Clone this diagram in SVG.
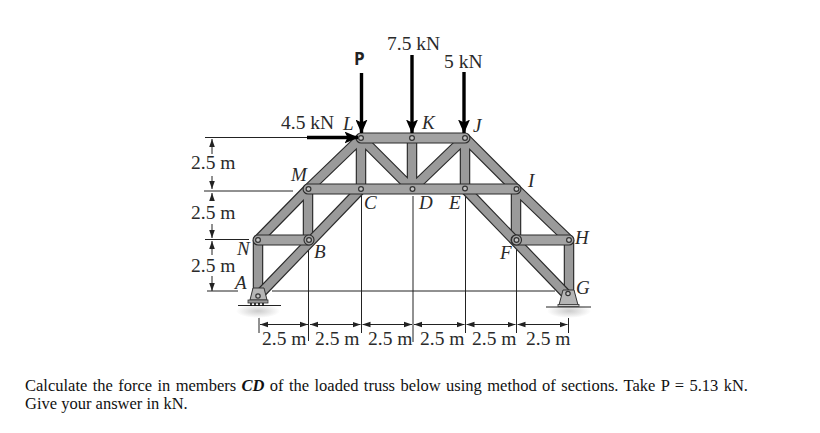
<svg xmlns="http://www.w3.org/2000/svg" width="820" height="433" viewBox="0 0 820 433">
<style>
text{font-family:"Liberation Serif","Times New Roman",serif;fill:#2a2a2a}
.d{font-size:19.5px}
.j{font-size:19px;font-style:italic}
.q{font-size:16.5px;fill:#111}
.o{fill:none;stroke:#2b2b2b;stroke-width:10.5}
.f{fill:none;stroke:#9a9a9a;stroke-width:8.2}
.or{fill:none;stroke:#2b2b2b;stroke-width:11;stroke-linecap:round}
.fr{fill:none;stroke:#a2a2a2;stroke-width:8.8;stroke-linecap:round}
.t{stroke:#222;stroke-width:1;fill:none}
.load{stroke:#000;stroke-width:3.4;fill:none}
.pin{fill:#c4c4c4;stroke:#333;stroke-width:1.2}
.boss{fill:#a2a2a2;stroke:#2b2b2b;stroke-width:1.1}
</style>
<defs>
<marker id="ah" viewBox="0 0 14 12" refX="13.500" refY="6" markerWidth="14" markerHeight="12" markerUnits="userSpaceOnUse" orient="auto"><path d="M0 0L14 6L0 12L3 6Z" fill="#000"/></marker>
<marker id="tk" viewBox="0 0 10 10" refX="10" refY="5" markerWidth="8" markerHeight="8" markerUnits="userSpaceOnUse" orient="auto-start-reverse"><path d="M0 1.500L10 5L0 8.500Z" fill="#222"/></marker>
<path id="web" d="M361 138L308 189M308 189L258 240M258 240V296M308 189V240M361 138V189M412 138V189M465 138V189M361 138L412 189M465 138L412 189M465 138L516 189M516 189L569 240M516 189V240M569 240V296"/>
<path id="dg" d="M258 296L361 189M465 189L568 296"/>
<path id="hh" d="M258 240H308M516 240H569"/>
<path id="chord" d="M308 189H516M361 138H465"/>
<radialGradient id="gnd"><stop offset="0" stop-color="#ccc"/><stop offset="1" stop-color="#fff"/></radialGradient>
</defs>

<g id="connectors">
<g id="dimensions">
<path class="t" d="M205 137.500H310M204 191H293M205 239.500H249M207 291H238M272 291H555M259 303V333M308.500 246V341M361.500 196V333M413 196V342M465.500 196V333M516.500 246V333M568.500 305V333"/>
<path class="t" marker-start="url(#tk)" d="M212 139V154"/>
<path class="t" marker-end="url(#tk)" d="M212 176V189"/>
<path class="t" marker-start="url(#tk)" d="M212 193V200"/>
<path class="t" marker-end="url(#tk)" d="M212 224V238"/>
<path class="t" marker-start="url(#tk)" d="M212 241V255"/>
<path class="t" marker-end="url(#tk)" d="M212 276V291"/>
<path class="t" marker-start="url(#tk)" marker-end="url(#tk)" d="M260 324.500H308"/>
<path class="t" marker-start="url(#tk)" marker-end="url(#tk)" d="M310 324.500H360.500"/>
<path class="t" marker-start="url(#tk)" marker-end="url(#tk)" d="M362.500 324.500H412"/>
<path class="t" marker-start="url(#tk)" marker-end="url(#tk)" d="M414 324.500H464.500"/>
<path class="t" marker-start="url(#tk)" marker-end="url(#tk)" d="M466.500 324.500H515.500"/>
<path class="t" marker-start="url(#tk)" marker-end="url(#tk)" d="M517.500 324.500H567.500"/>
</g>
<g id="members">
<use href="#web" class="o"/><use href="#web" class="f"/>
<use href="#dg" class="o"/><use href="#dg" class="f"/>
<use href="#hh" class="or"/><use href="#hh" class="fr"/>
<use href="#chord" class="or"/><use href="#chord" class="fr"/>
<circle class="boss" cx="309" cy="240" r="5"/>
<circle class="boss" cx="516.500" cy="240" r="5"/>
</g>
<g id="loads">
<path class="load" marker-end="url(#ah)" d="M361.500 73V133"/>
<path class="load" marker-end="url(#ah)" d="M412 55V133"/>
<path class="load" marker-end="url(#ah)" d="M464 72V133"/>
<path class="load" marker-end="url(#ah)" d="M307 137.500H358"/>
</g>
</g>

<g id="support-A">
<ellipse cx="258" cy="311" rx="22" ry="7" fill="url(#gnd)"/>
<path class="t" d="M238 305.500H281"/>
<path d="M253 288H264L267 300H250Z" fill="#b5b5b5" stroke="#333"/>
<rect x="248" y="300" width="20" height="3" fill="#999" stroke="#333" stroke-width=".8"/>
<path d="M251 303V306M255 303V306M259 303V306M263 303V306" stroke="#111" stroke-width="1.600"/>
<circle class="pin" cx="258" cy="296" r="2.200"/>
<text class="j" x="235" y="289">A</text>
</g>
<g id="support-G">
<ellipse cx="569" cy="311" rx="22" ry="7" fill="url(#gnd)"/>
<path class="t" d="M546 307H591"/>
<path d="M563 290H574L578 305H559Z" fill="#b5b5b5" stroke="#333"/>
<rect x="558" y="304.500" width="21" height="2" fill="#ccc" stroke="#333" stroke-width=".8"/>
<circle class="pin" cx="568" cy="293.500" r="2.200"/>
<text class="j" x="576" y="294">G</text>
</g>
<g id="node-L"><circle class="pin" cx="361" cy="138" r="2.400"/><text class="j" x="343" y="130">L</text></g>
<g id="node-K"><circle class="pin" cx="412" cy="138" r="2.400"/><text class="j" x="422" y="129">K</text></g>
<g id="node-J"><circle class="pin" cx="465" cy="138" r="2.400"/><text class="j" x="473" y="132">J</text></g>
<g id="node-M"><circle class="pin" cx="308.500" cy="189" r="2.400"/><text class="j" x="291" y="181">M</text></g>
<g id="node-C"><circle class="pin" cx="361" cy="189" r="2.400"/><text class="j" x="364" y="209">C</text></g>
<g id="node-D"><circle class="pin" cx="412.500" cy="189" r="2.400"/><text class="j" x="419" y="209">D</text></g>
<g id="node-E"><circle class="pin" cx="465" cy="188.500" r="2.400"/><text class="j" x="449" y="209">E</text></g>
<g id="node-I"><circle class="pin" cx="516.500" cy="189" r="2.400"/><text class="j" x="528" y="187">I</text></g>
<g id="node-N"><circle class="pin" cx="258" cy="240" r="2.400"/><text class="j" x="237" y="255">N</text></g>
<g id="node-B"><circle class="pin" cx="309" cy="240" r="2.400"/><text class="j" x="314" y="258">B</text></g>
<g id="node-F"><circle class="pin" cx="516.500" cy="240" r="2.400"/><text class="j" x="500" y="259">F</text></g>
<g id="node-H"><circle class="pin" cx="569" cy="240" r="2.400"/><text class="j" x="575" y="244">H</text></g>

<g id="labels">
<text x="354" y="65" style="font-family:'Open Sans','Noto Sans',sans-serif;font-weight:700;font-size:17px;fill:#222">P</text>
<text class="d" x="387" y="50">7.5 kN</text>
<text class="d" x="444" y="68">5 kN</text>
<text class="d" x="281" y="129">4.5 kN</text>
<text class="d" x="191" y="169">2.5 m</text>
<text class="d" x="191" y="219">2.5 m</text>
<text class="d" x="191" y="272">2.5 m</text>
<text class="d" x="262" y="345">2.5 m</text>
<text class="d" x="315" y="345">2.5 m</text>
<text class="d" x="368" y="345">2.5 m</text>
<text class="d" x="420" y="345">2.5 m</text>
<text class="d" x="472" y="345">2.5 m</text>
<text class="d" x="526" y="345">2.5 m</text>
<text class="q" x="25" y="391" word-spacing="1.250">Calculate the force in members <tspan font-weight="700" font-style="italic">CD</tspan> of the loaded truss below using method of sections. Take P = 5.13 kN.</text>
<text class="q" x="25" y="409">Give your answer in kN.</text>
</g>
</svg>
